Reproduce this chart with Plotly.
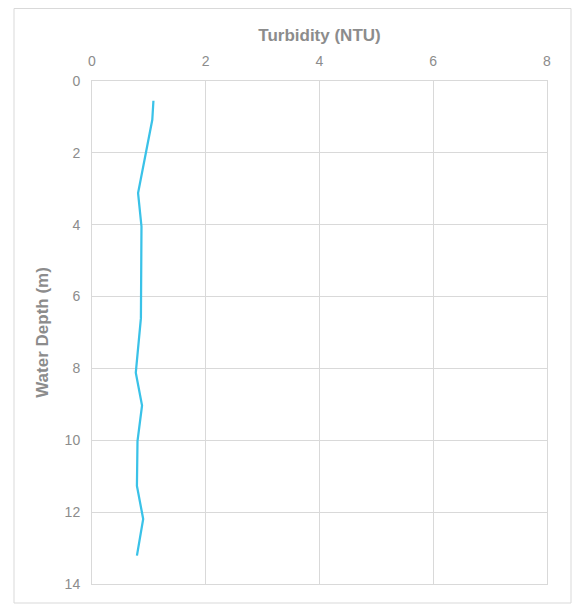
import plotly.graph_objects as go

turbidity = [1.08, 1.06, 0.81, 0.87, 0.86, 0.77, 0.88, 0.80, 0.79, 0.90, 0.79]
depth = [0.55, 1.08, 3.12, 4.05, 6.6, 8.12, 9.03, 10.02, 11.27, 12.19, 13.21]

x_ticks = [0, 2, 4, 6, 8]
y_ticks = [0, 2, 4, 6, 8, 10, 12, 14]

W, H = 581, 605
OFF = 8  # page body margin offset
L, T = 92 - OFF, 81 - OFF
R, B = W - (547 - OFF), H - (584 - OFF)

fig = go.Figure()
fig.add_trace(go.Scatter(
    x=turbidity, y=depth, mode="lines",
    line=dict(color="#3AC2E8", width=2.25),
    showlegend=False,
))

grid = "#D9D9D9"
tickfont = dict(family="Liberation Sans, Arial, sans-serif", size=14, color="#8C8C8C")
titlefont = dict(family="Liberation Sans, Arial, sans-serif", size=17, color="#8C8C8C")

fig.update_layout(
    width=W, height=H,
    margin=dict(l=L, r=R, t=T, b=B, pad=0, autoexpand=False),
    paper_bgcolor="white", plot_bgcolor="white",
    xaxis=dict(
        side="top", range=[0, 8], tickvals=x_ticks,
        showgrid=True, gridcolor=grid, gridwidth=1,
        showline=True, linecolor=grid, linewidth=1, mirror=True,
        zeroline=False, ticks="", tickfont=tickfont, ticklabelstandoff=8,
        title=dict(text="<b>Turbidity (NTU)</b>", font=titlefont, standoff=7),
    ),
    yaxis=dict(
        range=[14, 0], tickvals=y_ticks,
        showgrid=True, gridcolor=grid, gridwidth=1,
        showline=True, linecolor=grid, linewidth=1, mirror=True,
        zeroline=False, ticks="", tickfont=tickfont, ticklabelstandoff=8,
        title=dict(text="<b>Water Depth (m)</b>", font=titlefont, standoff=11),
    ),
)

pw, ph = W - L - R, H - T - B
x0 = (14 - OFF - L) / pw
x1 = (571 - OFF - L) / pw
y1 = (H - B - 0.5) / ph
y0 = (H - B - (603 - OFF)) / ph
fig.add_shape(type="rect", xref="paper", yref="paper",
              x0=x0, x1=x1, y0=y0, y1=y1,
              line=dict(color=grid, width=1), fillcolor="rgba(0,0,0,0)", layer="below")

fig.write_html("out.html")
